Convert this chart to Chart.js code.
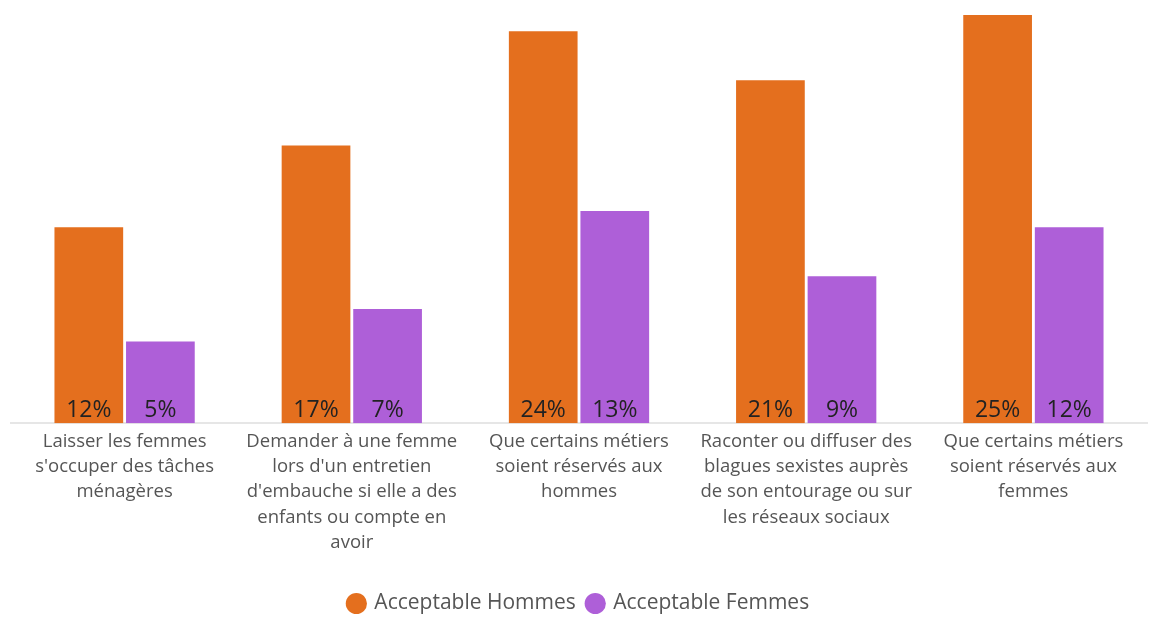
<!DOCTYPE html>
<html>
<head>
<meta charset="utf-8">
<script src="https://cdn.jsdelivr.net/npm/chart.js@4"></script>
<style>
  html, body { margin: 0; padding: 0; background: #fff; }
  #wrap { width: 1149px; height: 617px; }
</style>
</head>
<body>
<div id="wrap"><canvas id="chart"></canvas></div>
<script>
// Data
const categories = [
  ["Laisser les femmes", "s'occuper des tâches", "ménagères"],
  ["Demander à une femme", "lors d'un entretien", "d'embauche si elle a des", "enfants ou compte en", "avoir"],
  ["Que certains métiers", "soient réservés aux", "hommes"],
  ["Raconter ou diffuser des", "blagues sexistes auprès", "de son entourage ou sur", "les réseaux sociaux"],
  ["Que certains métiers", "soient réservés aux", "femmes"]
];
const hommes = [12, 17, 24, 21, 25];
const femmes = [5, 7, 13, 9, 12];

// Value labels drawn inside the bars, near the base
const barLabels = {
  id: 'barLabels',
  afterDatasetsDraw(chart) {
    const ctx = chart.ctx;
    ctx.save();
    ctx.font = '23px "Open Sans"';
    ctx.fillStyle = '#222';
    ctx.textAlign = 'center';
    ctx.textBaseline = 'bottom';
    chart.data.datasets.forEach((ds, i) => {
      chart.getDatasetMeta(i).data.forEach((bar, j) => {
        ctx.fillText(ds.data[j] + '%', bar.x, bar.base - 1);
      });
    });
    ctx.restore();
  }
};

new Chart(document.getElementById('chart'), {
  type: 'bar',
  data: {
    labels: categories,
    datasets: [
      { label: 'Acceptable Hommes', data: hommes, backgroundColor: '#E46F1E' },
      { label: 'Acceptable Femmes', data: femmes, backgroundColor: '#AE5FD8' }
    ]
  },
  options: {
    responsive: true,
    maintainAspectRatio: false,
    animation: false,
    layout: { padding: { left: 11, right: 2, top: 15, bottom: -7 } },
    datasets: { bar: { categoryPercentage: 0.63, barPercentage: 0.96 } },
    plugins: {
      legend: {
        position: 'bottom',
        labels: {
          usePointStyle: true, pointStyle: 'circle', boxWidth: 15, boxHeight: 15,
          color: '#555', font: { family: '"Open Sans"', size: 21 }, padding: 12
        }
      },
      tooltip: { enabled: false }
    },
    scales: {
      x: {
        grid: { display: false, drawTicks: false },
        border: { color: '#e6e6e6', width: 2 },
        ticks: {
          color: '#555', font: { family: '"Open Sans"', size: 18.5, lineHeight: 1.36 },
          maxRotation: 0, autoSkip: false, padding: 6
        },
        afterFit(scale) { scale.height += 20; }
      },
      y: {
        display: false,
        min: 0, max: 25
      }
    }
  },
  plugins: [barLabels]
});
</script>
</body>
</html>
